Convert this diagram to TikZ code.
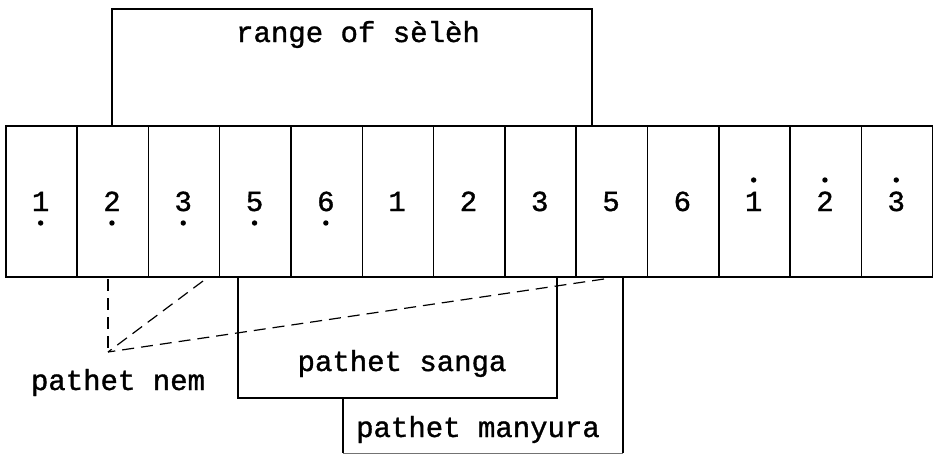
\documentclass[tikz,border=0pt]{standalone}
\usepackage{fontspec}
\setmonofont[FakeBold=1.2,AutoFakeBold=1.2]{Liberation Mono}
\begin{document}
\begin{tikzpicture}[x=1pt,y=-1pt,line width=1.5pt,
  txt/.style={font=\ttfamily\fontsize{29}{30}\selectfont,inner sep=0pt,anchor=base},
  cellbox/.style={draw,rectangle,inner sep=0pt,minimum width=71.3pt,minimum height=151pt,anchor=north west},
  dashedlink/.style={line width=1.2pt,dash pattern=on 12pt off 7pt},
  dotmark/.style={fill=black}]
\useasboundingbox (0,0) rectangle (933,456);
% row of cells
\foreach \d/\m [count=\k] in {1/b,2/b,3/b,5/b,6/b,1/n,2/n,3/n,5/n,6/n,1/a,2/a,3/a}{
  \pgfmathsetmacro{\xl}{5+(\k-1)*71.3}
  \pgfmathsetmacro{\xc}{\xl+35.65}
  \node[cellbox] (c\k) at (\xl,125) {};
  \node[txt] (d\k) at (\xc,211) {\d};
  \if\m b\fill[dotmark] (\xc,223) circle (2.7pt);\fi
  \if\m a\fill[dotmark] (\xc,180) circle (2.7pt);\fi
}
% range of seleh
\draw (112,125) -- (112,9) -- (592,9) -- (592,125);
\node[txt] (range) at (358,42) {range of sèlèh};
% pathet sanga
\draw (238,276) -- (238,398) -- (557,398) -- (557,276);
\node[txt] (sanga) at (402,371) {pathet sanga};
% pathet manyura
\draw (343,398) -- (343,453);
\draw (623,276) -- (623,453);
\draw[line width=0.8pt,black!55] (343,453) -- (623,453);
\node[txt] (manyura) at (478,437) {pathet manyura};
% pathet nem
\node[txt] (nem) at (118,390) {pathet nem};
\coordinate (nemtip) at (108,352);
\coordinate (nemA) at (108,279);
\coordinate (nemB) at (203,281);
\coordinate (nemC) at (604,279);
\draw[dashedlink] (nemA) -- (nemtip);
\draw[dashedlink] (nemB) -- (nemtip);
\draw[dashedlink] (nemC) -- (nemtip);
\end{tikzpicture}
\end{document}
